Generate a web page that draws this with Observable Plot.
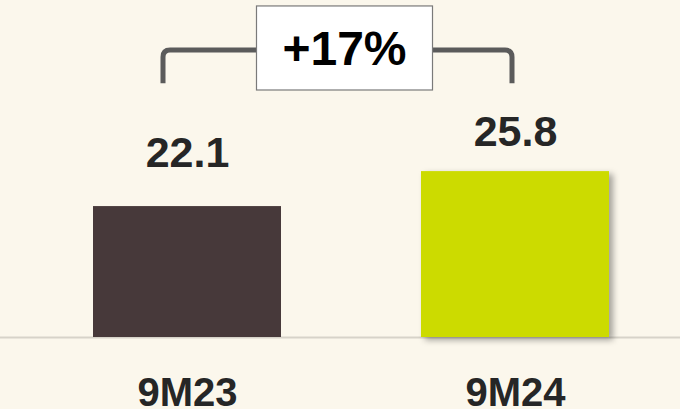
<!DOCTYPE html>
<html>
<head>
<meta charset="utf-8">
<script src="https://cdn.jsdelivr.net/npm/d3@7"></script>
<script src="https://cdn.jsdelivr.net/npm/@observablehq/plot@0.6"></script>
<style>
  html, body { margin: 0; padding: 0; background: #FBF7EC; }
  #chart { width: 680px; height: 409px; overflow: hidden; }
</style>
</head>
<body>
<div id="chart"></div>
<script>
// ---- data ----
const periods = ["9M23", "9M24"];
const values = [22.1, 25.8];
const barColors = ["#47393A", "#CCDB00"];

const data = periods.map((p, i) => ({period: p, value: values[i], color: barColors[i]}));
const growth = Math.round((values[1] / values[0] - 1) * 100);
const growthLabel = (growth >= 0 ? "+" : "") + growth + "%";

const FONT = "'Liberation Sans', Arial, Helvetica, sans-serif";

// bracket annotation drawn through the plot's own scales
function bracket(index, scales) {
  const g = d3.create("svg:g");
  const bw = scales.x.bandwidth();
  const x0 = scales.x(periods[0]) + bw / 2 - 24;
  const x1 = scales.x(periods[1]) + bw / 2 - 3;
  const yTop = scales.y(38.6);
  const yEnd = scales.y(35.1);
  const r = 7;
  const path = `M${x0},${yEnd} L${x0},${yTop + r} Q${x0},${yTop} ${x0 + r},${yTop} L${x1 - r},${yTop} Q${x1},${yTop} ${x1},${yTop + r} L${x1},${yEnd}`;
  g.append("path").attr("d", path).attr("fill", "none")
    .attr("stroke", "#5b5b5b").attr("stroke-width", 5).attr("stroke-linecap", "butt");
  const cx = (x0 + x1) / 2 + 7;
  const bTop = scales.y(43.27), bBot = scales.y(34.38);
  const bW = 176;
  g.append("rect").attr("x", cx - bW / 2).attr("y", bTop).attr("width", bW).attr("height", bBot - bTop)
    .attr("fill", "#ffffff").attr("stroke", "#7a7a7a").attr("stroke-width", 1.2);
  g.append("text").attr("x", cx).attr("y", (bTop + bBot) / 2 + 17)
    .attr("text-anchor", "middle").attr("font-family", FONT).attr("font-weight", "bold")
    .attr("font-size", 48).attr("fill", "#000").text(growthLabel);
  return g.node();
}

const chart = Plot.plot({
  width: 680,
  height: 409,
  marginTop: 0,
  marginBottom: 72,
  marginLeft: 27,
  marginRight: 5,
  style: {background: "transparent", fontFamily: FONT},
  x: {domain: periods, paddingInner: 0.427, paddingOuter: 0.2, label: null},
  y: {domain: [8.25, 43.9], axis: null},
  marks: [
    Plot.ruleY([8.25], {stroke: "#d7d3c9", strokeWidth: 2, insetLeft: -27, insetRight: -5}),
    Plot.barY(data, {x: "period", y1: 8.25, y2: "value", fill: "color", className: "bars"}),
    Plot.text(data.filter(d => d.period === periods[0]), {x: "period", y: "value", text: d => d.value.toFixed(1),
      dy: -40, fontSize: 43, fontWeight: "bold", fill: "#262626", lineAnchor: "bottom"}),
    Plot.text(data.filter(d => d.period === periods[1]), {x: "period", y: "value", text: d => d.value.toFixed(1),
      dy: -26, fontSize: 43, fontWeight: "bold", fill: "#262626", lineAnchor: "bottom"}),
    Plot.axisX({tickSize: 0, tickPadding: 40, fontSize: 40, fontWeight: "bold", fill: "#262626", label: null}),
    bracket
  ]
});

document.getElementById("chart").appendChild(chart);

// drop shadow on the second bar
const rects = d3.select(chart).selectAll("g.bars rect");
rects.filter((d, i) => i === 1).style("filter", "drop-shadow(4px 3px 3px rgba(0,0,0,0.35))");
</script>
</body>
</html>
